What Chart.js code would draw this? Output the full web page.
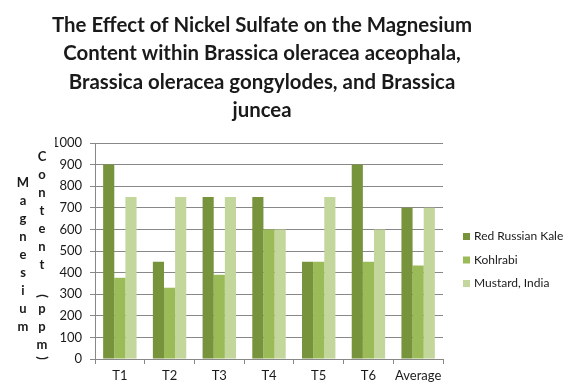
<!DOCTYPE html>
<html>
<head>
<meta charset="utf-8">
<script src="https://cdn.jsdelivr.net/npm/chart.js@4/dist/chart.umd.min.js"></script>
<style>
  html, body { margin: 0; padding: 0; background: #fff; }
  #wrap { position: relative; width: 571px; height: 389px; }
</style>
</head>
<body>
<div id="wrap"><canvas id="magChart"></canvas></div>
<script>
        // chart data
        const categories = ['T1', 'T2', 'T3', 'T4', 'T5', 'T6', 'Average'];
        const seriesNames = ['Red Russian Kale', 'Kohlrabi', 'Mustard, India'];
        const redKale = [900, 450, 750, 750, 450, 900, 700];
        const kohlrabi = [376, 330, 390, 600, 450, 450, 433];
        const mustard = [750, 750, 750, 600, 750, 600, 700];
        const yTicks = [0, 100, 200, 300, 400, 500, 600, 700, 800, 900, 1000];
        const titleLines = [
            'The Effect of Nickel Sulfate on the Magnesium',
            'Content within Brassica oleracea aceophala,',
            'Brassica oleracea gongylodes, and Brassica',
            'juncea'
        ];
        const yTitleColumns = ['Magnesium', 'Content (ppm)'];

        const seriesColors = ['#77933C', '#9BBB59', '#C3D69B'];
        const gridGray = '#888888';
        const textColor = '#1a1a1a';

        Chart.defaults.font.family = 'Lato';
        Chart.defaults.color = textColor;

        // title, stacked axis title and legend, drawn the way Excel lays them out
        const excelText = {
            id: 'excelText',
            afterDraw(chart) {
                const ctx = chart.ctx;
                const area = chart.chartArea;
                ctx.save();
                ctx.fillStyle = textColor;
                ctx.textBaseline = 'middle';

                // title
                ctx.font = 'bold 20.4px Lato';
                ctx.textAlign = 'center';
                titleLines.forEach(function (line, i) {
                    ctx.fillText(line, 262, 25 + i * 28.5);
                });

                // stacked y axis title, one column per word group
                ctx.font = 'bold 13px Lato';
                const colX = [23, 42];
                const midY = 255;
                yTitleColumns.forEach(function (text, c) {
                    const chars = text.split('');
                    const adv = chars.map(function (ch) { return (ch === '(' || ch === ')') ? 8 : 18; });
                    const total = adv.reduce(function (a, b) { return a + b; }, 0);
                    let y = midY - total / 2;
                    chars.forEach(function (ch, i) {
                        const cy = y + adv[i] / 2;
                        if (ch === '(' || ch === ')') {
                            ctx.save();
                            ctx.translate(colX[c], cy);
                            ctx.rotate(Math.PI / 2);
                            ctx.fillText(ch, 0, 0);
                            ctx.restore();
                        } else if (ch !== ' ') {
                            ctx.fillText(ch, colX[c], cy);
                        }
                        y += adv[i];
                    });
                });

                // legend
                ctx.font = '12px Lato';
                ctx.textAlign = 'left';
                const legendMid = (area.top + area.bottom) / 2 + 9;
                chart.data.datasets.forEach(function (ds, i) {
                    const cy = legendMid + (i - 1) * 23.5;
                    ctx.fillStyle = ds.backgroundColor;
                    ctx.fillRect(area.right + 20, cy - 3.5, 7, 7);
                    ctx.fillStyle = textColor;
                    ctx.fillText(ds.label, area.right + 31, cy);
                });
                ctx.restore();
            }
        };

        const ctx = document.getElementById('magChart').getContext('2d');
        const magChart = new Chart(ctx, {
            type: 'bar',
            data: {
                labels: categories,
                datasets: [
                    { label: seriesNames[0], data: redKale, backgroundColor: seriesColors[0] },
                    { label: seriesNames[1], data: kohlrabi, backgroundColor: seriesColors[1] },
                    { label: seriesNames[2], data: mustard, backgroundColor: seriesColors[2] }
                ]
            },
            options: {
                responsive: true,
                maintainAspectRatio: false,
                animation: false,
                layout: {
                    padding: { left: 55, right: 128, top: 143, bottom: 0 }
                },
                datasets: {
                    bar: {
                        barPercentage: 1,
                        categoryPercentage: 0.672
                    }
                },
                scales: {
                    x: {
                        grid: {
                            drawOnChartArea: false,
                            color: gridGray,
                            tickLength: 5
                        },
                        border: { color: gridGray },
                        ticks: {
                            padding: 4,
                            maxRotation: 0,
                            minRotation: 0,
                            autoSkip: false,
                            font: { size: 13 },
                            color: textColor
                        },
                        afterFit: function (scale) { scale.height = 30; }
                    },
                    y: {
                        min: 0,
                        max: 1000,
                        afterBuildTicks: function (scale) {
                            scale.ticks = yTicks.map(function (v) { return { value: v }; });
                        },
                        grid: {
                            color: gridGray,
                            tickLength: 5
                        },
                        border: { color: gridGray },
                        ticks: {
                            padding: 8,
                            font: { size: 13 },
                            color: textColor,
                            callback: function (v) { return String(v); }
                        },
                        afterFit: function (scale) { scale.width = 40; }
                    }
                },
                plugins: {
                    legend: { display: false },
                    tooltip: { enabled: false }
                }
            },
            plugins: [excelText]
        });
</script>
</body>
</html>
